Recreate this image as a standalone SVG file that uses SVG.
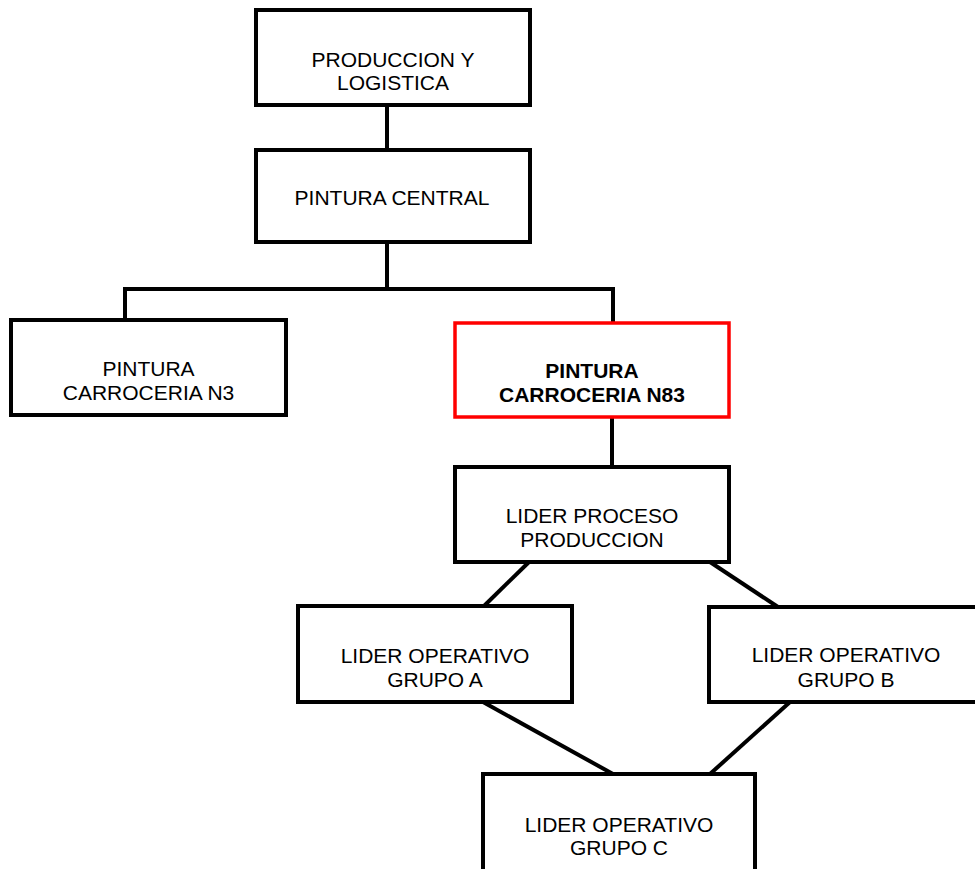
<svg xmlns="http://www.w3.org/2000/svg" width="975" height="869" viewBox="0 0 975 869">
  <style>
    .box { fill: #ffffff; stroke: #000000; stroke-width: 4; }
    .hl { fill: #ffffff; stroke: #ff0000; stroke-width: 3.5; }
    .lbl { font-family: "Liberation Sans", Arial, sans-serif; font-size: 21px; fill: #000000; text-anchor: middle; }
    .bold { font-weight: bold; }
    .wire { fill: none; stroke: #000000; stroke-width: 4; stroke-linejoin: miter; }
  </style>
  <rect width="975" height="869" fill="#ffffff"/>

  <!-- connectors -->
  <g id="connectors">
    <line class="wire" x1="387" y1="105" x2="387" y2="150"/>
    <line class="wire" x1="387" y1="242" x2="387" y2="289"/>
    <polyline class="wire" points="125,320 125,289 613,289 613,323"/>
    <line class="wire" x1="612" y1="417" x2="612" y2="467"/>
    <line class="wire" x1="529" y1="562" x2="484" y2="606"/>
    <line class="wire" x1="710" y1="562" x2="778" y2="607"/>
    <line class="wire" x1="483" y1="702" x2="613" y2="774"/>
    <line class="wire" x1="790" y1="702" x2="710" y2="774"/>
  </g>

  <g id="produccion-logistica">
    <rect class="box" x="256" y="10" width="274" height="95"/>
    <text class="lbl" x="393" y="67">PRODUCCION Y</text>
    <text class="lbl" x="393" y="90">LOGISTICA</text>
  </g>

  <g id="pintura-central">
    <rect class="box" x="256" y="150" width="274" height="92"/>
    <text class="lbl" x="392" y="205">PINTURA CENTRAL</text>
  </g>

  <g id="pintura-n3">
    <rect class="box" x="11" y="320" width="275" height="95"/>
    <text class="lbl" x="148.5" y="376">PINTURA</text>
    <text class="lbl" x="148.5" y="400">CARROCERIA N3</text>
  </g>

  <g id="pintura-n83">
    <rect class="hl" x="455" y="323" width="274" height="94"/>
    <text class="lbl bold" x="592" y="378">PINTURA</text>
    <text class="lbl bold" x="592" y="402">CARROCERIA N83</text>
  </g>

  <g id="lider-proceso">
    <rect class="box" x="455" y="467" width="274" height="95"/>
    <text class="lbl" x="592" y="523">LIDER PROCESO</text>
    <text class="lbl" x="592" y="547">PRODUCCION</text>
  </g>

  <g id="grupo-a">
    <rect class="box" x="298" y="606" width="274" height="96"/>
    <text class="lbl" x="435" y="663">LIDER OPERATIVO</text>
    <text class="lbl" x="435" y="687">GRUPO A</text>
  </g>

  <g id="grupo-b">
    <rect class="box" x="709" y="607" width="274" height="95"/>
    <text class="lbl" x="846" y="662">LIDER OPERATIVO</text>
    <text class="lbl" x="846" y="687">GRUPO B</text>
  </g>

  <g id="grupo-c">
    <rect class="box" x="483" y="774" width="272" height="100"/>
    <text class="lbl" x="619" y="832">LIDER OPERATIVO</text>
    <text class="lbl" x="619" y="855">GRUPO C</text>
  </g>
</svg>
